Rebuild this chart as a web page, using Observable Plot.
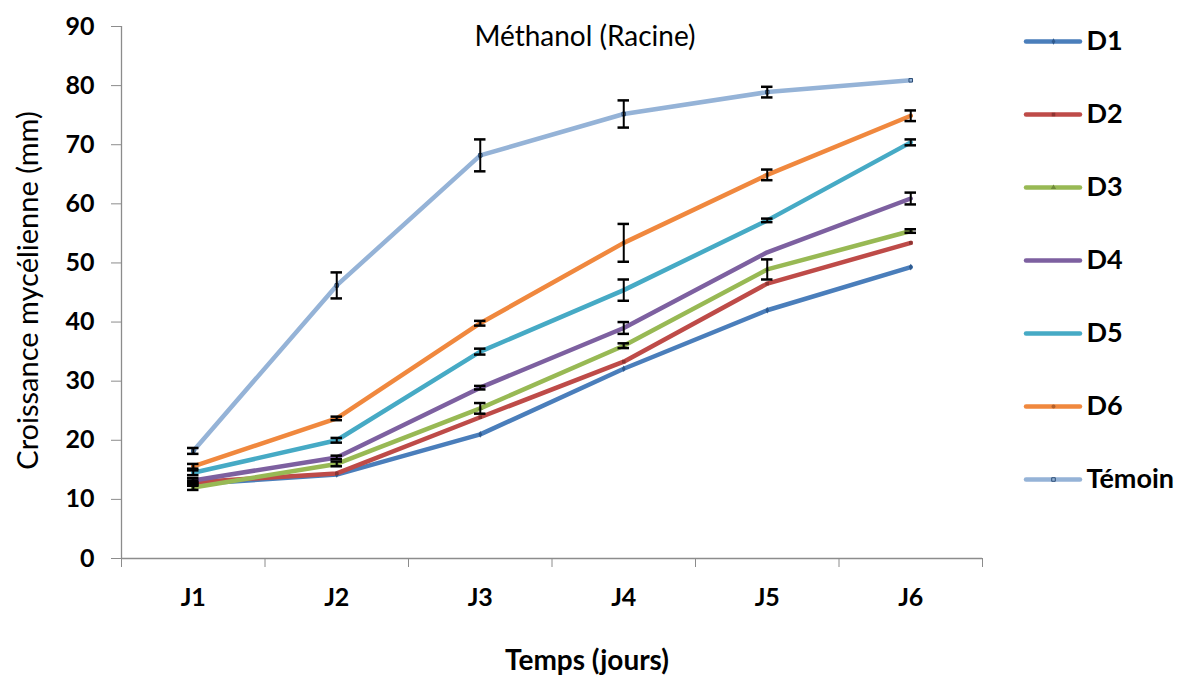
<!DOCTYPE html>
<html>
<head>
<meta charset="utf-8">
<script src="https://cdn.jsdelivr.net/npm/d3@7"></script>
<script src="https://cdn.jsdelivr.net/npm/@observablehq/plot@0.6"></script>
<style>
  html, body { margin: 0; padding: 0; background: #fff; }
  #wrap { position: relative; width: 1178px; height: 675px; font-family: Lato, "Open Sans", sans-serif; }
  #main { position: absolute; left: 0; top: 0; }
  #legend { position: absolute; left: 1000px; top: 0; }
</style>
</head>
<body>
<div id="wrap"><div id="main"></div><div id="legend"></div></div>
<script>
// ---- data ----
const days = ["J1", "J2", "J3", "J4", "J5", "J6"];
const seriesNames = ["D1", "D2", "D3", "D4", "D5", "D6", "Témoin"];
const seriesColors = ["#4A7EBB", "#BE4B48", "#98B954", "#7D60A0", "#46AAC5", "#F0883E", "#95B3D7"];
const markerSymbols = ["diamond", "square", "triangle", "times", "asterisk", "circle", "square"];
const markerFills = ["#2F5A8E", "#8E3432", "#6F8A3A", "#5A4476", "#2E7F95", "#B5612A", "#95B3D7"];
const yTicks = [0, 10, 20, 30, 40, 50, 60, 70, 80, 90];

const D1 = [12.6, 14.2, 21.0, 32.1, 42.0, 49.3];
const D2 = [12.9, 14.4, 23.9, 33.3, 46.5, 53.4];
const D3 = [12.0, 16.0, 25.4, 36.0, 48.9, 55.4];
const D4 = [13.2, 17.1, 28.9, 39.0, 51.8, 60.9];
const D5 = [14.5, 20.0, 35.0, 45.4, 57.2, 70.4];
const D6 = [15.6, 23.7, 39.8, 53.4, 64.9, 74.9];
const Temoin = [18.2, 46.2, 68.2, 75.2, 78.9, 80.9];

const errD1 = [0.3, 0, 0, 0, 0, 0];
const errD2 = [0.3, 0, 0, 0, 0, 0];
const errD3 = [0.4, 0.4, 0.9, 0.4, 1.7, 0.3];
const errD4 = [0.4, 0.3, 0.3, 1.0, 0, 1.0];
const errD5 = [0.4, 0.4, 0.5, 1.8, 0.3, 0.5];
const errD6 = [0.4, 0.3, 0.4, 3.2, 0.9, 0.9];
const errTemoin = [0.5, 2.2, 2.7, 2.3, 0.9, 0];

const title = "Méthanol (Racine)";
const yTitle = "Croissance mycélienne (mm)";
const xTitle = "Temps (jours)";

// ---- build long table ----
const values = [D1, D2, D3, D4, D5, D6, Temoin];
const errors = [errD1, errD2, errD3, errD4, errD5, errD6, errTemoin];
const rows = [];
seriesNames.forEach((s, si) => {
  days.forEach((d, di) => {
    rows.push({series: s, si, day: d, xi: di + 1, value: values[si][di], err: errors[si][di]});
  });
});
const errRows = rows.filter(d => d.err > 0);
const boundaries = days.map((d, i) => i + 0.5).concat([days.length + 0.5]);
const centers = days.map((d, i) => i + 1);
const capHalf = 0.04;

const font = "Lato, 'Open Sans', sans-serif";
const axisColor = "#8c8c8c";

const main = Plot.plot({
  width: 1000,
  height: 675,
  marginLeft: 121,
  marginRight: 18,
  marginTop: 26,
  marginBottom: 117,
  style: {fontFamily: font, color: "#000", background: "transparent"},
  x: {type: "linear", domain: [0.5, days.length + 0.5], axis: null},
  y: {domain: [0, 90], axis: null},
  color: {domain: seriesNames, range: seriesColors},
  marks: [
    Plot.ruleX([0.5], {stroke: axisColor, strokeWidth: 1.3}),
    Plot.ruleY([0], {stroke: axisColor, strokeWidth: 1.3}),
    Plot.axisY({ticks: yTicks, label: null, tickSize: 10, tickPadding: 17, stroke: axisColor, fill: "#000",
      fontSize: 25, fontWeight: "bold", tickFormat: d => String(d)}),
    Plot.axisX({ticks: boundaries, label: null, tickSize: 9, tickFormat: () => "", stroke: axisColor}),
    Plot.axisX({ticks: centers, label: null, tickSize: 0, tickPadding: 30, tickFormat: i => days[i - 1],
      fill: "#000", fontSize: 25, fontWeight: "bold"}),
    Plot.line(rows, {x: "xi", y: "value", z: "series", stroke: "series", strokeWidth: 4.5,
      strokeLinejoin: "round", strokeLinecap: "round"}),
    Plot.dot(rows, {x: "xi", y: "value", symbol: d => markerSymbols[d.si], r: 2,
      fill: d => markerFills[d.si], stroke: d => d.series === "Témoin" ? "#2C4D75" : "none", strokeWidth: 1}),
    Plot.ruleX(errRows, {x: "xi", y1: d => d.value - d.err, y2: d => d.value + d.err, stroke: "#000", strokeWidth: 2}),
    Plot.ruleY(errRows, {y: d => d.value + d.err, x1: d => d.xi - capHalf, x2: d => d.xi + capHalf, stroke: "#000", strokeWidth: 2.5}),
    Plot.ruleY(errRows, {y: d => d.value - d.err, x1: d => d.xi - capHalf, x2: d => d.xi + capHalf, stroke: "#000", strokeWidth: 2.5}),
    Plot.text([title], {frameAnchor: "top", textAnchor: "middle", lineAnchor: "middle", dx: 33, dy: 11, fontSize: 28, fill: "#000"}),
    Plot.text([yTitle], {frameAnchor: "left", textAnchor: "middle", lineAnchor: "middle", rotate: -90, dx: -93, dy: -2, fontSize: 29, fill: "#000"}),
    Plot.text([xTitle], {frameAnchor: "bottom", textAnchor: "middle", lineAnchor: "middle", dx: 35, dy: 103, fontSize: 28, fontWeight: "bold", fill: "#000"})
  ]
});
document.getElementById("main").appendChild(main);

const legend = Plot.plot({
  width: 178,
  height: 675,
  margin: 0,
  style: {fontFamily: font, color: "#000", background: "transparent"},
  x: {domain: [0, 1], range: [26, 80], axis: null},
  y: {type: "point", domain: seriesNames, range: [40, 480], padding: 0, axis: null},
  color: {domain: seriesNames, range: seriesColors},
  marks: [
    Plot.ruleY(seriesNames, {y: d => d, x1: 0, x2: 1, stroke: d => d, strokeWidth: 4.5, strokeLinecap: "round"}),
    Plot.dot(seriesNames, {x: 0.5, y: d => d, symbol: (d, i) => markerSymbols[i], r: 2,
      fill: (d, i) => markerFills[i], stroke: d => d === "Témoin" ? "#2C4D75" : "none", strokeWidth: 1}),
    Plot.text(seriesNames, {x: 1, y: d => d, text: d => d, dx: 6, textAnchor: "start", lineAnchor: "middle",
      fontSize: 27, fontWeight: "bold", fill: "#000"})
  ]
});
document.getElementById("legend").appendChild(legend);
</script>
</body>
</html>
